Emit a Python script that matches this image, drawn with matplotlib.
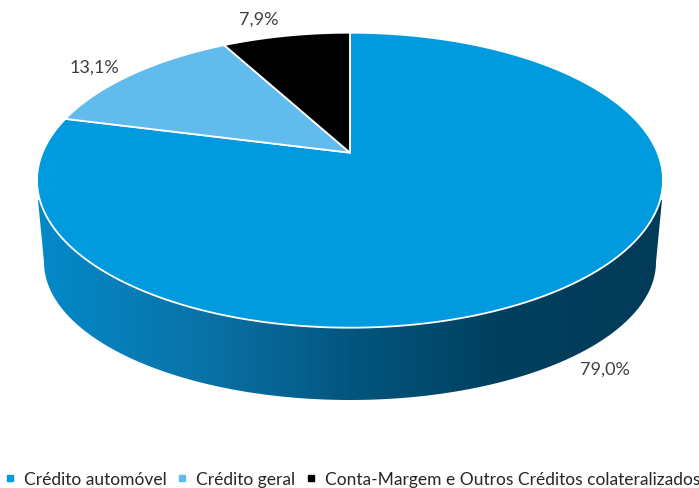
import numpy as np
import matplotlib.pyplot as plt
from matplotlib.colors import LinearSegmentedColormap
from matplotlib.lines import Line2D
from matplotlib.patches import Polygon

plt.rcParams['font.family'] = ['Lato', 'DejaVu Sans']

# Dados
categorias = ["Crédito automóvel", "Crédito geral", "Conta-Margem e Outros Créditos colateralizados"]
valores = [79.0, 13.1, 7.9]
rotulos = ["79,0%", "13,1%", "7,9%"]
cores = ["#009bde", "#62bbed", "#000000"]

# Geometria da pizza em pixels
cx, cy, a, b = 350, 181.2, 313, 147.5     # elipse do topo
apice_y = 153.7                           # centro visual (perspectiva)
bx, by, ba, bb = 350, 263, 306, 138       # elipse da base
rot_pos = [(605, 370), (94, 68), (259, 20)]


def projeta(ang):
    # circulo unitario -> elipse com perspectiva; ang horario a partir do topo
    X = np.sin(ang)
    Y = -np.cos(ang)
    v0 = (apice_y - cy) / b
    d = 1 + v0 * Y
    u = X * np.sqrt(1 - v0**2) / d
    v = (Y + v0) / d
    return cx + a * u, cy + b * v


fig = plt.figure(figsize=(6.99, 4.89), dpi=100)
ax = fig.add_axes([0, 0, 1, 1])
ax.set_xlim(0, 699)
ax.set_ylim(489, 0)
ax.axis("off")

###############################################################################
# Lateral com gradiente
###############################################################################
t = np.linspace(np.pi, 0, 200)
lado_x = np.r_[cx - a + 1, bx + ba * np.cos(t), cx + a - 1]
lado_y = np.r_[201, by + bb * np.sin(t), 201]
lado = Polygon(np.c_[lado_x, lado_y], closed=True, facecolor="none", edgecolor="none")
ax.add_patch(lado)

cmap = LinearSegmentedColormap.from_list("lado", [
    (0.0, "#0389c9"), (0.26, "#0a73a8"), (0.5, "#03567f"),
    (0.74, "#01405f"), (1.0, "#023b57")])
grad = np.linspace(0, 1, 300).reshape(1, -1)
im = ax.imshow(grad, cmap=cmap, extent=[38, 662, 410, 190], aspect="auto", zorder=1)
im.set_clip_path(lado)
ax.set_xlim(0, 699)
ax.set_ylim(489, 0)

###############################################################################
# Fatias do topo
###############################################################################
acum = np.r_[0, np.cumsum(valores)] / np.sum(valores) * 2 * np.pi
for i in range(len(valores)):
    ang = np.linspace(acum[i], acum[i + 1], 200)
    px, py = projeta(ang)
    pts = np.c_[np.r_[cx, px], np.r_[apice_y, py]]
    ax.add_patch(Polygon(pts, closed=True, facecolor=cores[i], edgecolor="white",
                         linewidth=1.3, joinstyle="miter", zorder=2))

for txt, (x, y) in zip(rotulos, rot_pos):
    ax.text(x, y, txt, fontsize=13, color="#404040", ha="center", va="center", zorder=3)

###############################################################################
# Legenda
###############################################################################
marcas = [Line2D([], [], linestyle="none", marker="s", markersize=5, color=c) for c in cores]
ax.legend(marcas, categorias, loc="lower left", bbox_to_anchor=(-0.002, -0.006), ncol=3,
          frameon=False, fontsize=12.5, labelcolor="#262626", handlelength=0.9,
          handletextpad=0.35, columnspacing=0.45, borderpad=0.2, borderaxespad=0)

fig.savefig("out.png", dpi=100)
